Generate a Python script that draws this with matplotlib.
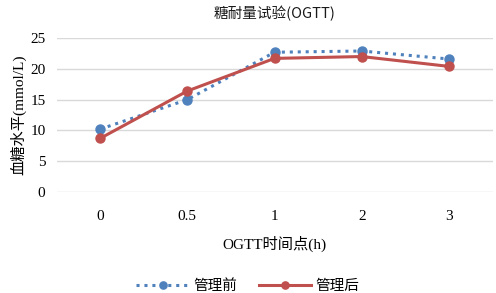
import matplotlib
matplotlib.use("Agg")
import matplotlib.pyplot as plt

# data
time_points = ["0", "0.5", "1", "2", "3"]
before_mgmt = [10.2, 15.0, 22.7, 22.9, 21.6]
after_mgmt = [8.7, 16.4, 21.7, 22.0, 20.4]
y_ticks = [0, 5, 10, 15, 20, 25]

BLUE = "#4F81BD"
RED = "#C0504D"
SERIF = ["Liberation Serif", "Noto Sans CJK SC"]
SANS = ["Noto Sans CJK SC", "DejaVu Sans"]

fig = plt.figure(figsize=(4.96, 2.93), dpi=100)
ax = fig.add_axes([0.114, 0.345, 0.879, 0.525])

x = range(len(time_points))
ax.plot(x, before_mgmt, color=BLUE, linestyle=(0, (1, 1.6)), linewidth=2.2,
        marker="o", markersize=6.5, label="管理前")
ax.plot(x, after_mgmt, color=RED, linestyle="-", linewidth=2.2,
        marker="o", markersize=6.5, label="管理后")

ax.set_xlim(-0.5, len(time_points) - 0.5)
ax.set_ylim(0, 25)
ax.set_xticks(list(x))
ax.set_xticklabels(time_points, family=SERIF, fontsize=11)
ax.set_yticks(y_ticks)
ax.set_yticklabels([str(v) for v in y_ticks], family=SERIF, fontsize=11)
ax.tick_params(length=0)
ax.tick_params(axis="x", pad=13)
ax.tick_params(axis="y", pad=8)
ax.grid(axis="y", color="#d9d9d9", linewidth=1)
ax.set_axisbelow(True)
for s in ax.spines.values():
    s.set_visible(False)

ax.set_title("糖耐量试验(OGTT)", family=SANS, fontsize=10.5, fontweight="medium",
             color="#1a1a1a", pad=14)
ax.set_xlabel("OGTT时间点(h)", family=SERIF, fontsize=11, labelpad=9)
ax.set_ylabel("血糖水平(mmol/L)", family=SERIF, fontsize=11, labelpad=3)

fig.legend(loc="lower center", bbox_to_anchor=(0.5, -0.045), ncol=2, frameon=False,
           prop={"family": SANS, "size": 10.5}, handlelength=3.6, columnspacing=1.5,
           handletextpad=0.3, markerscale=0.8)

fig.savefig("out.png", dpi=100)
